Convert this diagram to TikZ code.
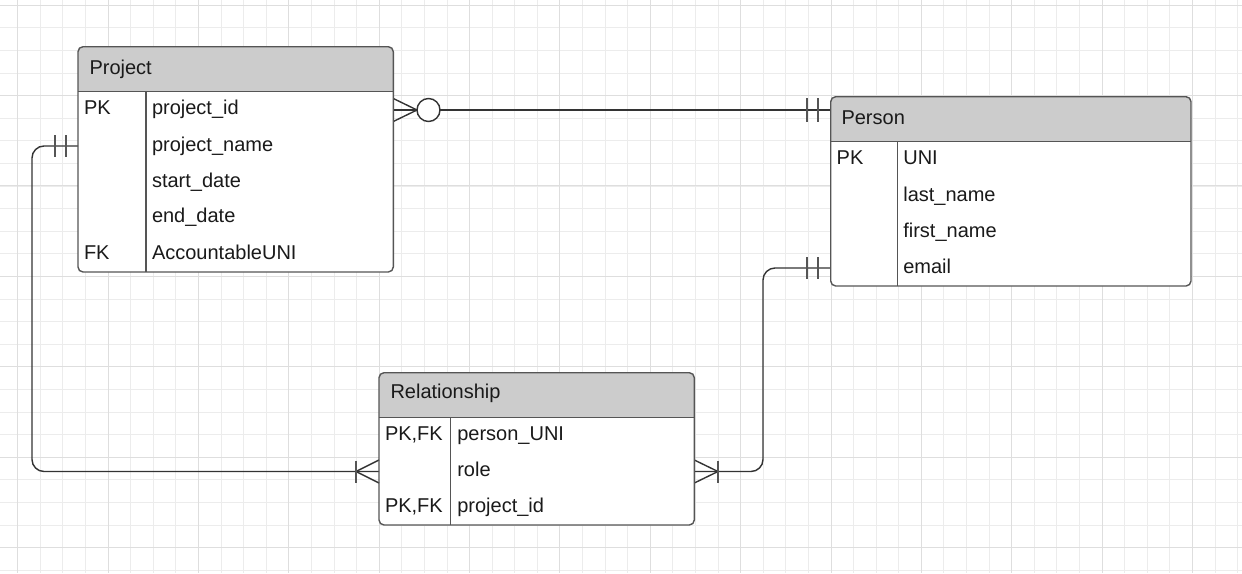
\documentclass[tikz,border=0pt]{standalone}
\usepackage{fontspec}
\setmainfont{Liberation Sans}
\definecolor{gridminor}{HTML}{ECECEC}
\definecolor{gridmajor}{HTML}{DEDEDE}
\definecolor{hdrgray}{HTML}{CCCCCC}
\definecolor{edgecol}{HTML}{555555}
\definecolor{wire}{HTML}{333333}
\definecolor{barcol}{HTML}{555555}
\definecolor{txt}{HTML}{1A1A1A}
\begin{document}
\begin{tikzpicture}[x=1pt,y=-1pt,
  tbl/.style={rectangle, rounded corners=5pt, fill=white, inner sep=0pt, outer sep=0pt, anchor=north west},
  tblline/.style={draw=edgecol, line width=1.4pt},
  lbl/.style={anchor=base west, inner sep=0pt, outer sep=0pt, font=\fontsize{20pt}{23pt}\selectfont, text=txt},
  conn/.style={draw=wire, line width=1.4pt},
  barline/.style={draw=barcol, line width=1.6pt},
  minorgrid/.style={draw=gridminor, line width=1pt},
  majorgrid/.style={draw=gridmajor, line width=1pt}
]
\useasboundingbox (0,0) rectangle (1242,573);
\fill[white] (0,0) rectangle (1242,573);
% grid (snapped to pixel centres)
\foreach \i in {0,...,55} {\draw[minorgrid] ({round(-5.29+\i*22.59)+0.5},0) -- ({round(-5.29+\i*22.59)+0.5},573);}
\foreach \j in {0,...,25} {\draw[minorgrid] (0,{round(4.7+\j*22.6)+0.5}) -- (1242,{round(4.7+\j*22.6)+0.5});}
\foreach \i in {0,...,13} {\draw[majorgrid] ({round(17.3+\i*90.36)+0.5},0) -- ({round(17.3+\i*90.36)+0.5},573);}
\foreach \j in {0,...,6} {\draw[majorgrid] (0,{round(4.7+\j*90.4)+0.5}) -- (1242,{round(4.7+\j*90.4)+0.5});}

% ---------- tables (shapes) ----------
\node[tbl, minimum width=315.3pt, minimum height=225.3pt] (project) at (78,46.7) {};
\node[tbl, minimum width=360.3pt, minimum height=189.3pt] (person) at (830.7,96.7) {};
\node[tbl, minimum width=315.3pt, minimum height=152.3pt] (relationship) at (379,372.7) {};

% ---------- connectors ----------
\coordinate (projR) at (393.3,110);
\coordinate (persL1) at (830.7,110);
\coordinate (projL) at (78,146);
\coordinate (relL) at (379,471.5);
\coordinate (persL2) at (830.7,268);
\coordinate (relR) at (694.3,471.5);

% Project -> Person (zero or many / one and only one)
\draw[conn] (projR) -- (persL1);
\draw[conn] (393.3,98.5) -- (417,110) -- (393.3,121.5);
\draw[conn, fill=white] (428.5,110) circle[radius=11.5pt];
\draw[barline] (807,98) -- (807,122);
\draw[barline] (818,98) -- (818,122);

% Project -> Relationship
\draw[conn, rounded corners=12pt] (projL) -- (32,146) -- (32,471.5) -- (relL);
\draw[barline] (55,135) -- (55,157);
\draw[barline] (66,135) -- (66,157);
\draw[conn] (379,460) -- (356,471.5) -- (379,483);
\draw[barline] (356,460.5) -- (356,482.5);

% Person -> Relationship
\draw[conn, rounded corners=12pt] (persL2) -- (763,268) -- (763,471.5) -- (relR);
\draw[barline] (807,257) -- (807,279);
\draw[barline] (818,257) -- (818,279);
\draw[conn] (694.3,460) -- (718,471.5) -- (694.3,483);
\draw[barline] (718,460.5) -- (718,482.5);

% ---------- table decorations ----------
% Project
\begin{scope}
\clip[rounded corners=5pt] (project.north west) rectangle (project.south east);
\fill[hdrgray] (project.north west) rectangle (393.3,91.7);
\end{scope}
\draw[tblline] (78,91.7) -- (393.3,91.7);
\draw[tblline] (146,91.7) -- (146,272);
\draw[tblline, rounded corners=5pt] (project.north west) rectangle (project.south east);
% Person
\begin{scope}
\clip[rounded corners=5pt] (person.north west) rectangle (person.south east);
\fill[hdrgray] (person.north west) rectangle (1191,141.7);
\end{scope}
\draw[tblline] (830.7,141.7) -- (1191,141.7);
\draw[tblline] (897.7,141.7) -- (897.7,286);
\draw[tblline, rounded corners=5pt] (person.north west) rectangle (person.south east);
% Relationship
\begin{scope}
\clip[rounded corners=5pt] (relationship.north west) rectangle (relationship.south east);
\fill[hdrgray] (relationship.north west) rectangle (694.3,417.3);
\end{scope}
\draw[tblline] (379,417.3) -- (694.3,417.3);
\draw[tblline] (450.7,417.3) -- (450.7,525);
\draw[tblline, rounded corners=5pt] (relationship.north west) rectangle (relationship.south east);

% ---------- texts ----------
\node[lbl] (projtitle) at (89.5,74) {Project};
\node[lbl] (projpk) at (84,114) {PK};
\node[lbl] (projfk) at (84,259) {FK};
\node[lbl] (projf1) at (152,114) {project\_id};
\node[lbl] (projf2) at (152,151) {project\_name};
\node[lbl] (projf3) at (152,187) {start\_date};
\node[lbl] (projf4) at (152,222) {end\_date};
\node[lbl] (projf5) at (152,259) {AccountableUNI};

\node[lbl] (perstitle) at (841.5,124) {Person};
\node[lbl] (perspk) at (836.7,164) {PK};
\node[lbl] (persf1) at (903.3,164) {UNI};
\node[lbl] (persf2) at (903.3,201) {last\_name};
\node[lbl] (persf3) at (903.3,237) {first\_name};
\node[lbl] (persf4) at (903.3,273) {email};

\node[lbl] (reltitle) at (390.5,398) {Relationship};
\node[lbl] (relk1) at (385,440) {PK,FK};
\node[lbl] (relk3) at (385,512) {PK,FK};
\node[lbl] (relf1) at (457.3,440) {person\_UNI};
\node[lbl] (relf2) at (457.3,476) {role};
\node[lbl] (relf3) at (457.3,512) {project\_id};
\end{tikzpicture}
\end{document}
